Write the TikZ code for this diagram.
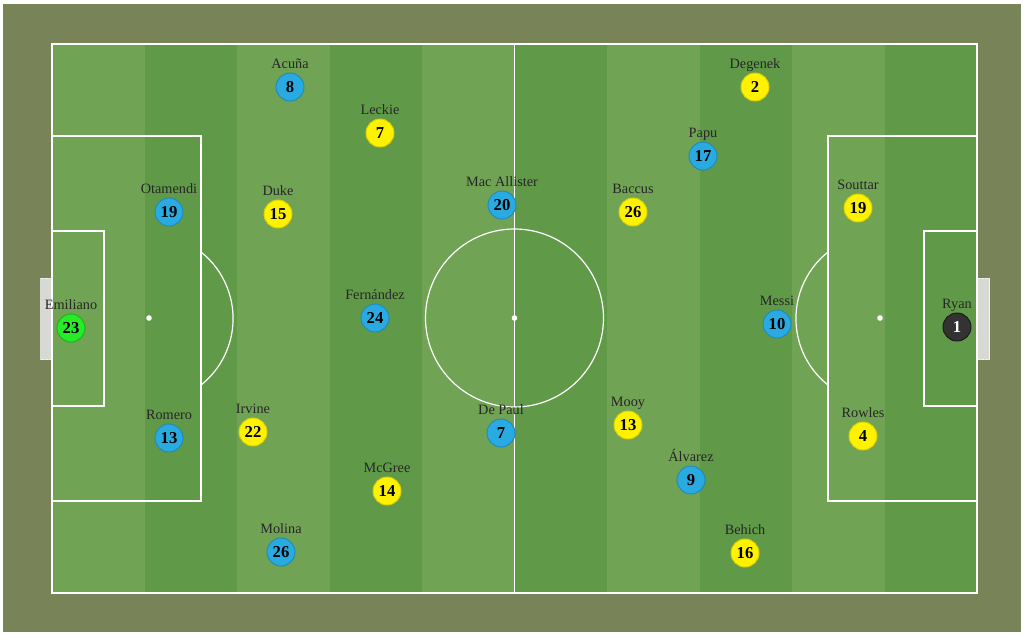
\documentclass[tikz,border=0pt]{standalone}
\usepackage{fontspec}
\setmainfont{Liberation Serif}
\usetikzlibrary{positioning,patterns}
\definecolor{surround}{RGB}{120,132,88}
\definecolor{grasslight}{RGB}{112,164,84}
\definecolor{grassdark}{RGB}{96,154,72}
\definecolor{argblue}{RGB}{41,171,226}
\definecolor{ausyellow}{RGB}{255,242,0}
\definecolor{keepergreen}{RGB}{40,235,40}
\definecolor{keeperdark}{RGB}{51,51,51}
\definecolor{netgrey}{RGB}{214,217,206}
\tikzset{
    player/.style={circle,draw,line width=0.7pt,minimum size=21pt,inner sep=0pt,
        font=\fontsize{12.5}{12.5}\selectfont\bfseries,label distance=2.2pt},
    arg/.style={player,fill=argblue,draw=argblue!80!black},
    aus/.style={player,fill=ausyellow,draw=ausyellow!85!black},
    every label/.style={inner sep=0pt,text height=7.5pt,text depth=2.5pt,
        text=black!85,font=\fontsize{10.7}{10.7}\selectfont},
    pitchline/.style={draw=white,line width=0.9pt},
    net/.style={fill=netgrey,draw=white!90!gray,line width=0.5pt}
}

\begin{document}
\begin{tikzpicture}[x=0.75pt,y=-0.75pt]

    \useasboundingbox[fill=white] (0,0) rectangle (1024,637);
    \fill[surround] (3,4) rectangle (1021,632);

    % grass
    \foreach \i in {0,...,9}{
        \ifodd\i
            \fill[grassdark] (52+92.5*\i,44) rectangle (52+92.5*\i+92.5,593);
        \else
            \fill[grasslight] (52+92.5*\i,44) rectangle (52+92.5*\i+92.5,593);
        \fi
    }

    % nets
    \filldraw[net] (40,278) rectangle (52,359);
    \fill[pattern=grid,pattern color=white!70!gray] (40,278) rectangle (52,359);
    \filldraw[net] (977,278) rectangle (989,359);
    \fill[pattern=grid,pattern color=white!70!gray] (977,278) rectangle (989,359);

    % markings
    \draw[pitchline,line width=1.3pt] (52,44) rectangle (977,593);
    \draw[pitchline] (514.5,44) -- (514.5,593);
    \draw[pitchline] (514.5,318) circle (89);
    \draw[pitchline] (52,136) rectangle (201,501);
    \draw[pitchline] (52,231) rectangle (104,406);
    \draw[pitchline] (828,136) rectangle (977,501);
    \draw[pitchline] (924,231) rectangle (977,406);
    \draw[pitchline] (201,252) arc[start angle=-51.5,end angle=51.5,radius=85];
    \draw[pitchline] (828,252) arc[start angle=231.5,end angle=128.5,radius=85];
    \fill[white] (514.5,318) circle (2.8);
    \fill[white] (149,318) circle (2.8);
    \fill[white] (880,318) circle (2.8);

    % Argentina
    \node[player,fill=keepergreen,draw=keepergreen!75!black] (arg 23) at (71,328) [label=above:Emiliano] {23};
    \node[arg] (arg 19) at (169,212) [label=above:Otamendi] {19};
    \node[arg] (arg 13) at (169,438) [label=above:Romero] {13};
    \node[arg] (arg 8)  at (290,87)  [label=above:Acuña] {8};
    \node[arg] (arg 26) at (281,552) [label=above:Molina] {26};
    \node[arg] (arg 24) at (375,318) [label=above:Fernández] {24};
    \node[arg] (arg 20) at (502,205) [label=above:Mac Allister] {20};
    \node[arg] (arg 7)  at (501,433) [label=above:De Paul] {7};
    \node[arg] (arg 17) at (703,156) [label=above:Papu] {17};
    \node[arg] (arg 9)  at (691,480) [label=above:Álvarez] {9};
    \node[arg] (arg 10) at (777,324) [label=above:Messi] {10};

    % Australia
    \node[player,fill=keeperdark,draw=black!90,text=white] (aus 1) at (957,327) [label=above:Ryan] {1};
    \node[aus] (aus 19) at (858,208) [label=above:Souttar] {19};
    \node[aus] (aus 4)  at (863,436) [label=above:Rowles] {4};
    \node[aus] (aus 2)  at (755,87)  [label=above:Degenek] {2};
    \node[aus] (aus 16) at (745,553) [label=above:Behich] {16};
    \node[aus] (aus 26) at (633,212) [label=above:Baccus] {26};
    \node[aus] (aus 13) at (628,425) [label=above:Mooy] {13};
    \node[aus] (aus 7)  at (380,133) [label=above:Leckie] {7};
    \node[aus] (aus 15) at (278,214) [label=above:Duke] {15};
    \node[aus] (aus 22) at (253,432) [label=above:Irvine] {22};
    \node[aus] (aus 14) at (387,491) [label=above:McGree] {14};

\end{tikzpicture}
\end{document}
